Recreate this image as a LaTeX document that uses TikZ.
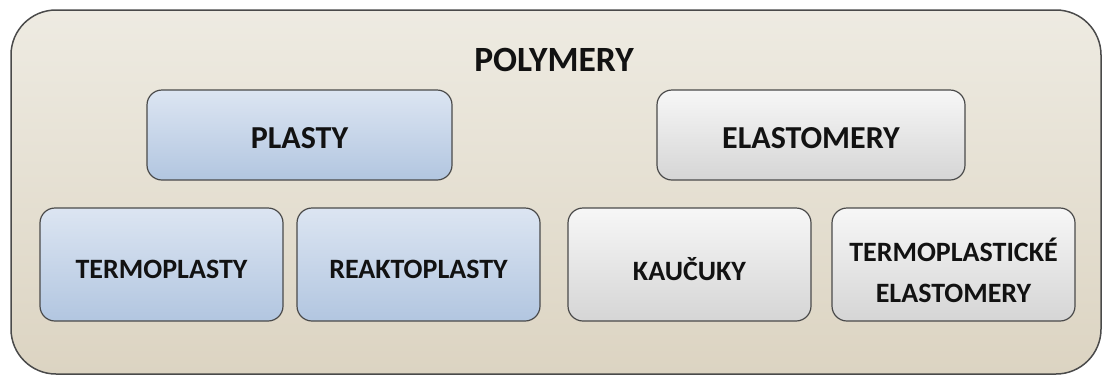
\documentclass[tikz,border=0pt]{standalone}
\usepackage{fontspec}
\setmainfont{Carlito}
\definecolor{outertop}{HTML}{EEEBE2}
\definecolor{outerbot}{HTML}{DCD4C2}
\definecolor{bluetop}{HTML}{DCE5F2}
\definecolor{bluebot}{HTML}{B2C6E0}
\definecolor{greytop}{HTML}{F7F7F7}
\definecolor{greybot}{HTML}{D5D5D5}
\definecolor{edge}{HTML}{4A4A4A}
\definecolor{txt}{HTML}{121212}
\tikzset{
  box/.style={draw=edge, line width=1.2pt, rounded corners=15pt, inner sep=0pt},
  bluebox/.style={box, top color=bluetop, bottom color=bluebot},
  greybox/.style={box, top color=greytop, bottom color=greybot},
  toplabel/.style={text=txt, inner sep=0pt, font=\fontsize{32}{38}\selectfont\bfseries},
  botlabel/.style={text=txt, inner sep=0pt, align=center, font=\fontsize{28}{41}\selectfont\bfseries},
}
\begin{document}
\begin{tikzpicture}[x=1pt,y=-1pt]
\useasboundingbox (0,0) rectangle (1103,376);
\node[draw=edge, line width=1.5pt, rounded corners=45pt, top color=outertop, bottom color=outerbot,
  minimum width=1090pt, minimum height=364pt, inner sep=0pt] (outer) at (556,192) {};
\node[text=txt, font=\fontsize{35.5}{40}\selectfont\bfseries, inner sep=0pt] (title) at (554,60) {POLYMERY};
\node[bluebox, minimum width=305pt, minimum height=90pt] (plasty) at (299.5,135) {};
\node[greybox, minimum width=308pt, minimum height=90pt] (elast) at (811,135) {};
\node[bluebox, minimum width=243pt, minimum height=113pt] (termo) at (161.5,264.5) {};
\node[bluebox, minimum width=243pt, minimum height=113pt] (reakto) at (418.5,264.5) {};
\node[greybox, minimum width=243pt, minimum height=113pt] (kaucuky) at (689.5,264.5) {};
\node[greybox, minimum width=243pt, minimum height=113pt] (tpe) at (953.5,264.5) {};
\node[toplabel] (plastyT) at ([yshift=-3pt]plasty.center) {PLASTY};
\node[toplabel] (elastT) at ([yshift=-3pt]elast.center) {ELASTOMERY};
\node[botlabel] (termoT) at ([yshift=-5pt]termo.center) {TERMOPLASTY};
\node[botlabel] (reaktoT) at ([yshift=-5pt]reakto.center) {REAKTOPLASTY};
\node[botlabel] (kaucukyT) at ([yshift=-5pt]kaucuky.center) {KAUČUKY};
\node[botlabel] (tpeT) at ([yshift=-6pt]tpe.center) {TERMOPLASTICKÉ\\ELASTOMERY};
\end{tikzpicture}
\end{document}
